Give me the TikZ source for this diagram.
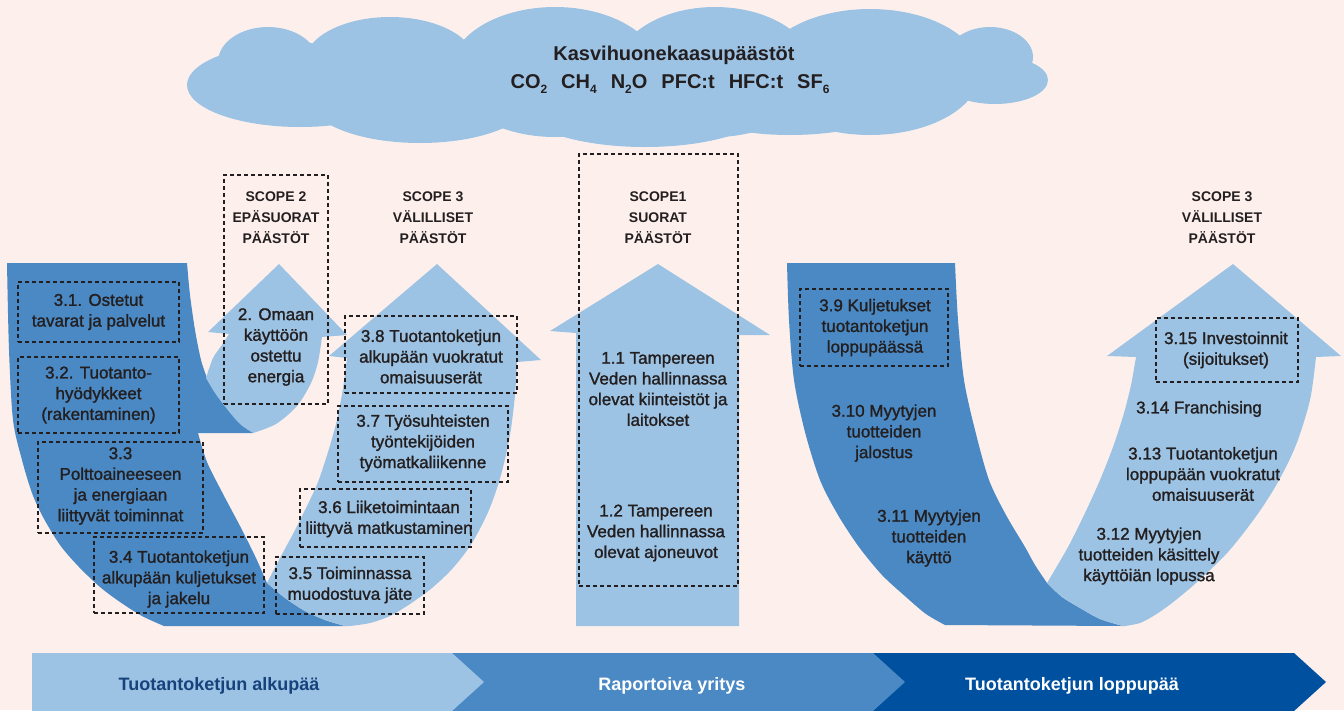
\documentclass[tikz,border=0pt]{standalone}
\usepackage{fontspec}
\setmainfont{Liberation Sans}
\newfontfamily\medfont{Liberation Sans}[FakeBold=1.4]
\newcommand\gsub[1]{\raisebox{-5pt}{\fontsize{12}{12}\selectfont #1}}
\definecolor{bg}{HTML}{FDF0EC}
\definecolor{lblue}{HTML}{9DC3E4}
\definecolor{mblue}{HTML}{4A89C3}
\definecolor{dblue}{HTML}{0050A0}
\definecolor{txt}{HTML}{231F20}
\definecolor{bartxt}{HTML}{17427C}
\begin{document}
\begin{tikzpicture}[x=1pt,y=-1pt,
  lbl/.style={align=center,text=txt,inner sep=0pt,font=\medfont\fontsize{17}{20.7}\selectfont},
  scopelbl/.style={align=center,text=txt,inner sep=0pt,font=\fontsize{14}{21}\selectfont\bfseries},
  dbox/.style={draw=txt,dash pattern=on 4pt off 3pt,line width=1.6pt,rectangle,inner sep=0pt},
  bartext/.style={font=\fontsize{18}{20}\selectfont\bfseries,inner sep=0pt,anchor=base}]
\useasboundingbox (0,0) rectangle (1344,710);
\fill[bg] (0,0) rectangle (1344,710);

% cloud
\begin{scope}[lblue]
\fill (300,85) ellipse [x radius=113pt, y radius=42pt];
\fill (268,62) ellipse [x radius=50pt, y radius=35pt];
\fill (390,62) ellipse [x radius=85pt, y radius=45pt];
\fill (555,72) ellipse [x radius=105pt, y radius=65pt];
\fill (715,72) ellipse [x radius=100pt, y radius=65pt];
\fill (870,72) ellipse [x radius=110pt, y radius=63pt];
\fill (420,100) ellipse [x radius=110pt, y radius=43pt];
\fill (645,105) ellipse [x radius=125pt, y radius=42pt];
\fill (790,100) ellipse [x radius=110pt, y radius=35pt];
\fill (990,57) ellipse [x radius=43pt, y radius=30pt];
\fill (995,80) ellipse [x radius=53pt, y radius=24pt];
\end{scope}
\node[font=\fontsize{20}{24}\selectfont\bfseries,text=txt,inner sep=0pt] (title) at (674,55) {Kasvihuonekaasupäästöt};
\node[font=\fontsize{20}{24}\selectfont\bfseries,text=txt,inner sep=0pt,anchor=base] (gases) at (670,88)
  {CO\gsub{2}\hspace{14pt}CH\gsub{4}\hspace{14pt}N\gsub{2}O\hspace{14pt}PFC:t\hspace{14pt}HFC:t\hspace{14pt}SF\gsub{6}};

% left U dark band
\fill[mblue] plot[smooth] coordinates {(7,263) (9,350) (13,420) (22,460) (32,493) (43,517) (60,545) (79,567) (100,587) (120,602) (142,616) (164,626)}
  -- (345,626)
  -- plot[smooth] coordinates {(345,626) (325,620) (305,611) (285,598) (267,583)}
  -- plot[smooth] coordinates {(267,583) (255,556) (240,526) (222,492) (207,462) (198,433)}
  -- (253,433) -- (262,410) -- (230,380) -- (207,378)
  -- plot[smooth] coordinates {(207,378) (201,360) (195,330) (190,295) (187,263)}
  -- cycle;
% scope 2 arrow
\fill[lblue] (208,332) -- (279,264) -- (347,335) -- (322,337)
  -- plot[smooth] coordinates {(322,337) (318,362) (311,383) (297,406) (276,424) (253,433)}
  -- plot[smooth] coordinates {(253,433) (240,424) (227,409) (215,393) (206,378)}
  -- plot[smooth] coordinates {(206,378) (213,358) (222,345) (229,334)}
  -- cycle;
% left U light band
\fill[lblue] (329,356) -- (437,264) -- (541,360) -- (517,362)
  -- plot[smooth] coordinates {(517,362) (515,395) (510,435) (501,475) (489,510) (472,543) (453,568) (432,588) (410,604) (390,616) (370,623) (350,626)}
  -- (345,626)
  -- plot[smooth] coordinates {(345,626) (325,620) (305,611) (285,598) (267,583)}
  -- plot[smooth] coordinates {(267,583) (280,558) (294,532) (307,506) (318,482) (328,452) (337,420) (343,388) (347,358)}
  -- cycle;
% scope 1 arrow
\fill[lblue] (550,331) -- (658,264) -- (770,335) -- (739,335) -- (739,626) -- (576,626) -- (576,333) -- cycle;
% right U dark band
\fill[mblue] plot[smooth] coordinates {(787,263) (789,320) (794,380) (805,432) (820,480) (838,515) (859,547) (882,575) (906,597) (926,614) (945,625)}
  -- (1123,626)
  -- plot[smooth] coordinates {(1123,626) (1100,619) (1080,608) (1062,597) (1047,583)}
  -- plot[smooth] coordinates {(1047,583) (1035,565) (1025,547) (1006,515) (989,480) (975,430) (964,380) (958,320) (955,263)}
  -- cycle;
% right U light band
\fill[lblue] (1107,356) -- (1233,264) -- (1341,356) -- (1316,357)
  -- plot[smooth] coordinates {(1316,357) (1310,400) (1296,445) (1278,482) (1257,515) (1228,552) (1196,583) (1172,603) (1155,615) (1140,623) (1125,626)}
  -- plot[smooth] coordinates {(1123,626) (1100,619) (1080,608) (1062,597) (1047,583)}
  -- plot[smooth] coordinates {(1047,583) (1068,547) (1085,513) (1100,480) (1113,447) (1124,413) (1131,385) (1136,357)}
  -- cycle;

% scope labels
\node[scopelbl] (s2) at (276,218) {SCOPE 2\\EPÄSUORAT\\PÄÄSTÖT};
\node[scopelbl] (s3l) at (433,218) {SCOPE 3\\VÄLILLISET\\PÄÄSTÖT};
\node[scopelbl] (s1) at (658,218) {SCOPE1\\SUORAT\\PÄÄSTÖT};
\node[scopelbl] (s3r) at (1222,218) {SCOPE 3\\VÄLILLISET\\PÄÄSTÖT};

% dashed boxes
\node[dbox,minimum width=104pt,minimum height=229pt] (bs2) at (276,289.5) {};
\node[dbox,minimum width=159pt,minimum height=432pt] (bs1) at (658.5,370) {};
\node[dbox,minimum width=161pt,minimum height=60pt] (b31) at (98.5,312) {};
\node[dbox,minimum width=161pt,minimum height=76pt] (b32) at (98.5,395) {};
\node[dbox,minimum width=165pt,minimum height=91pt] (b33) at (120.5,487.5) {};
\node[dbox,minimum width=170pt,minimum height=76pt] (b34) at (179,575) {};
\node[dbox,minimum width=148pt,minimum height=57pt] (b35) at (350,585.5) {};
\node[dbox,minimum width=171pt,minimum height=58pt] (b36) at (385.5,518) {};
\node[dbox,minimum width=170pt,minimum height=76pt] (b37) at (423,444) {};
\node[dbox,minimum width=172pt,minimum height=77pt] (b38) at (431,354.5) {};
\node[dbox,minimum width=148pt,minimum height=77pt] (b39) at (874,327.5) {};
\node[dbox,minimum width=142pt,minimum height=64pt] (b315) at (1227,350) {};

% texts
\node[lbl] (t31) at (98.5,312) {3.1. Ostetut\\tavarat ja palvelut};
\node[lbl] (t32) at (98.5,395) {3.2. Tuotanto-\\hyödykkeet\\(rakentaminen)};
\node[lbl] (t33) at (120.5,486) {3.3\\Polttoaineeseen\\ja energiaan\\liittyvät toiminnat};
\node[lbl] (t34) at (179,579) {3.4 Tuotantoketjun\\alkupään kuljetukset\\ja jakelu};
\node[lbl] (t35) at (350,585) {3.5 Toiminnassa\\muodostuva jäte};
\node[lbl] (t36) at (389,519) {3.6 Liiketoimintaan\\liittyvä matkustaminen};
\node[lbl] (t37) at (423,443) {3.7 Työsuhteisten\\työntekijöiden\\työmatkaliikenne};
\node[lbl] (t38) at (431,356.5) {3.8 Tuotantoketjun\\alkupään vuokratut\\omaisuuserät};
\node[lbl] (t2) at (276,347) {2. Omaan\\käyttöön\\ostettu\\energia};
\node[lbl] (t11) at (658,389) {1.1 Tampereen\\Veden hallinnassa\\olevat kiinteistöt ja\\laitokset};
\node[lbl] (t12) at (656,533) {1.2 Tampereen\\Veden hallinnassa\\olevat ajoneuvot};
\node[lbl] (t39) at (875,327.5) {3.9 Kuljetukset\\tuotantoketjun\\loppupäässä};
\node[lbl] (t310) at (884,433) {3.10 Myytyjen\\tuotteiden\\jalostus};
\node[lbl] (t311) at (929,538) {3.11 Myytyjen\\tuotteiden\\käyttö};
\node[lbl] (t312) at (1149,556) {3.12 Myytyjen\\tuotteiden käsittely\\käyttöiän lopussa};
\node[lbl] (t313) at (1203,474) {3.13 Tuotantoketjun\\loppupään vuokratut\\omaisuuserät};
\node[lbl] (t314) at (1199,409) {3.14 Franchising};
\node[lbl] (t315) at (1226,350) {3.15 Investoinnit\\(sijoitukset)};

% bottom bar
\fill[dblue] (873,653) -- (1294,653) -- (1326,682) -- (1294,711) -- (873,711) -- cycle;
\fill[mblue] (452,653) -- (873,653) -- (905,682) -- (873,711) -- (452,711) -- cycle;
\fill[lblue] (32,653) -- (452,653) -- (484,682) -- (452,711) -- (32,711) -- cycle;
\node[bartext,text=bartxt] (bar1) at (219,690) {Tuotantoketjun alkupää};
\node[bartext,text=white] (bar2) at (672,690) {Raportoiva yritys};
\node[bartext,text=white] (bar3) at (1072,690) {Tuotantoketjun loppupää};
\end{tikzpicture}
\end{document}
